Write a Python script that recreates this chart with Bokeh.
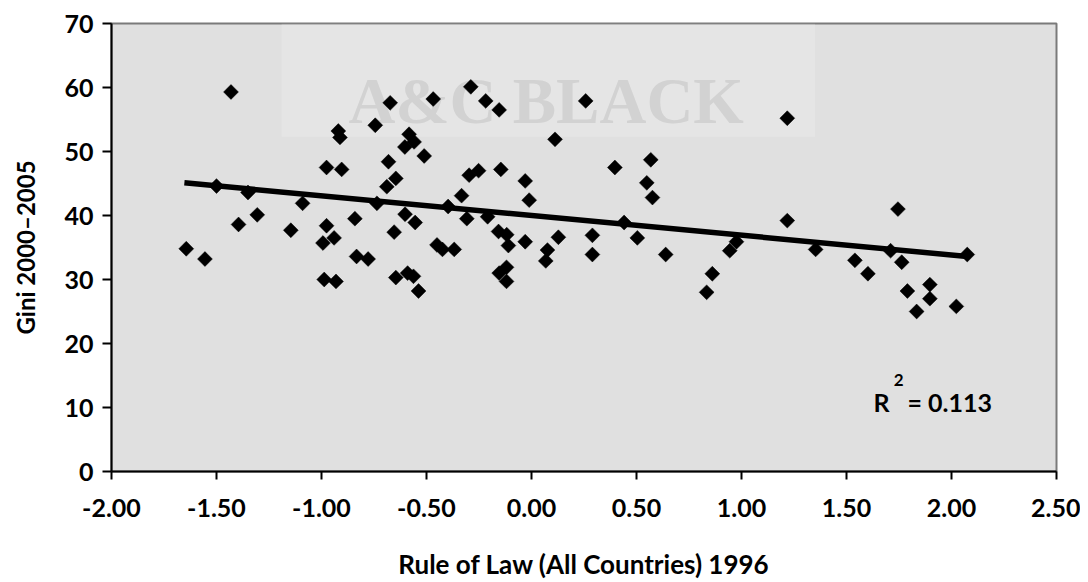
import numpy as np
from bokeh.plotting import figure
from bokeh.models import Range1d, FixedTicker, NumeralTickFormatter, Label, BoxAnnotation, ColumnDataSource
from bokeh.embed import file_html
from bokeh.resources import INLINE

# ---- data ----
rule_of_law = [
    -1.431, -0.920, -0.912, -0.976, -0.904, -1.500, -1.350, -1.090, -1.306, -1.395,
    -0.976, -0.940, -1.146, -0.993, -1.644, -1.555, -0.987, -0.931,
    -0.673, -0.468, -0.289, -0.218, -0.154, 0.112, -0.744, -0.583, -0.559, -0.603,
    -0.511, -0.681, -0.646, -0.689, -0.297, -0.252, -0.146, -0.030, -0.011, -0.333,
    -0.736, -0.397, -0.209, -0.841, -0.602, -0.554, -0.308, -0.654, -0.157, -0.118,
    -0.110, -0.030, 0.128, 0.076, 0.068, -0.450, -0.424, -0.368, -0.833, -0.778,
    -0.646, -0.590, -0.562, -0.538, -0.154, -0.119, -0.119,
    0.258, 1.218, 0.397, 0.568, 0.549, 0.576, 0.441, 1.218, 0.290, 0.290,
    0.504, 0.639, 0.976, 0.944, 0.861, 0.834,
    1.353, 1.745, 1.710, 2.075, 1.540, 1.763, 1.602, 1.790, 1.897, 1.897, 1.834, 2.023,
]
gini = [
    59.3, 53.2, 52.2, 47.5, 47.2, 44.6, 43.6, 41.9, 40.1, 38.6,
    38.4, 36.5, 37.7, 35.7, 34.8, 33.2, 30.0, 29.7,
    57.6, 58.2, 60.1, 57.9, 56.5, 51.9, 54.1, 52.7, 51.5, 50.7,
    49.3, 48.4, 45.8, 44.5, 46.3, 47.0, 47.2, 45.4, 42.4, 43.1,
    41.9, 41.4, 39.8, 39.5, 40.2, 38.9, 39.5, 37.4, 37.5, 37.0,
    35.3, 35.9, 36.6, 34.6, 32.9, 35.4, 34.7, 34.7, 33.6, 33.2,
    30.3, 31.0, 30.5, 28.2, 31.0, 31.9, 29.7,
    57.9, 55.2, 47.5, 48.7, 45.1, 42.8, 38.9, 39.2, 36.9, 33.9,
    36.5, 33.9, 35.9, 34.5, 30.9, 28.0,
    34.7, 41.0, 34.5, 33.9, 33.0, 32.7, 30.9, 28.2, 29.2, 27.0, 25.0, 25.8,
]
trend_x = [-1.653, 2.075]
trend_y = [45.1, 33.6]
x_ticks = [-2.0, -1.5, -1.0, -0.5, 0.0, 0.5, 1.0, 1.5, 2.0, 2.5]
y_ticks = [0, 10, 20, 30, 40, 50, 60, 70]
x_title = "Rule of Law (All Countries) 1996"
y_title = "Gini 2000\u20132005"
r2_text = "0.113"
watermark = "A&C BLACK"

FONT = "Lato"

p = figure(width=1080, height=582, output_backend="svg", toolbar_location=None,
           x_range=Range1d(-2.0, 2.5), y_range=Range1d(0, 70),
           min_border_left=111, min_border_right=24, min_border_top=23, min_border_bottom=110)
p.background_fill_color = "#e0e0e0"
p.border_fill_color = "white"
p.outline_line_color = "#7a7a7a"
p.outline_line_width = 2
p.xgrid.visible = False
p.ygrid.visible = False

# watermark (faint)
p.add_layout(BoxAnnotation(left=-1.19, right=1.35, bottom=52.3, top=70,
                           fill_color="white", fill_alpha=0.18, line_alpha=0, level="underlay"))
p.add_layout(Label(x=0.07, y=57.9, text=watermark, text_align="center", text_baseline="middle",
                   text_font="Liberation Serif", text_font_style="bold", text_font_size="65px",
                   text_color="#d2d2d2", level="underlay"))

# axes styling
for ax in (p.xaxis[0], p.yaxis[0]):
    ax.axis_line_color = "black"
    ax.axis_line_width = 2
    ax.major_tick_line_color = "black"
    ax.major_tick_line_width = 2
    ax.major_tick_in = 0
    ax.minor_tick_line_color = None
    ax.major_label_text_font = FONT
    ax.major_label_text_font_style = "bold"
    ax.major_label_text_font_size = "25px"
    ax.major_label_text_color = "black"
    ax.axis_label_text_font = FONT
    ax.axis_label_text_font_style = "bold"
    ax.axis_label_text_color = "black"

p.xaxis.ticker = FixedTicker(ticks=x_ticks)
p.xaxis.formatter = NumeralTickFormatter(format="0.00")
p.xaxis.major_tick_out = 8
p.xaxis.major_label_standoff = 19
p.xaxis.axis_label = x_title
p.xaxis.axis_label_text_font_size = "26px"
p.xaxis.axis_label_standoff = 28

p.yaxis.ticker = FixedTicker(ticks=y_ticks)
p.yaxis.major_tick_out = 9
p.yaxis.major_label_standoff = 9
p.yaxis.axis_label = y_title
p.yaxis.axis_label_text_font_size = "24px"
p.yaxis.axis_label_standoff = 21

src = ColumnDataSource(dict(x=rule_of_law, y=gini))
p.scatter("x", "y", source=src, marker="square", size=10.5, angle=np.pi / 4,
          fill_color="black", line_color="black", line_width=0.5)

p.line(trend_x, trend_y, line_color="black", line_width=5.5)

# R^2 annotation
p.add_layout(Label(x=1.629, y=10.9, text="R", text_font=FONT, text_font_style="bold",
                   text_font_size="25px", text_color="black", text_baseline="middle"))
p.add_layout(Label(x=1.725, y=14.3, text="2", text_font=FONT, text_font_style="bold",
                   text_font_size="17px", text_color="black", text_baseline="middle"))
p.add_layout(Label(x=1.79, y=10.9, text="= " + r2_text, text_font=FONT, text_font_style="bold",
                   text_font_size="25px", text_color="black", text_baseline="middle"))

open("out.html", "w").write(file_html(p, INLINE))
